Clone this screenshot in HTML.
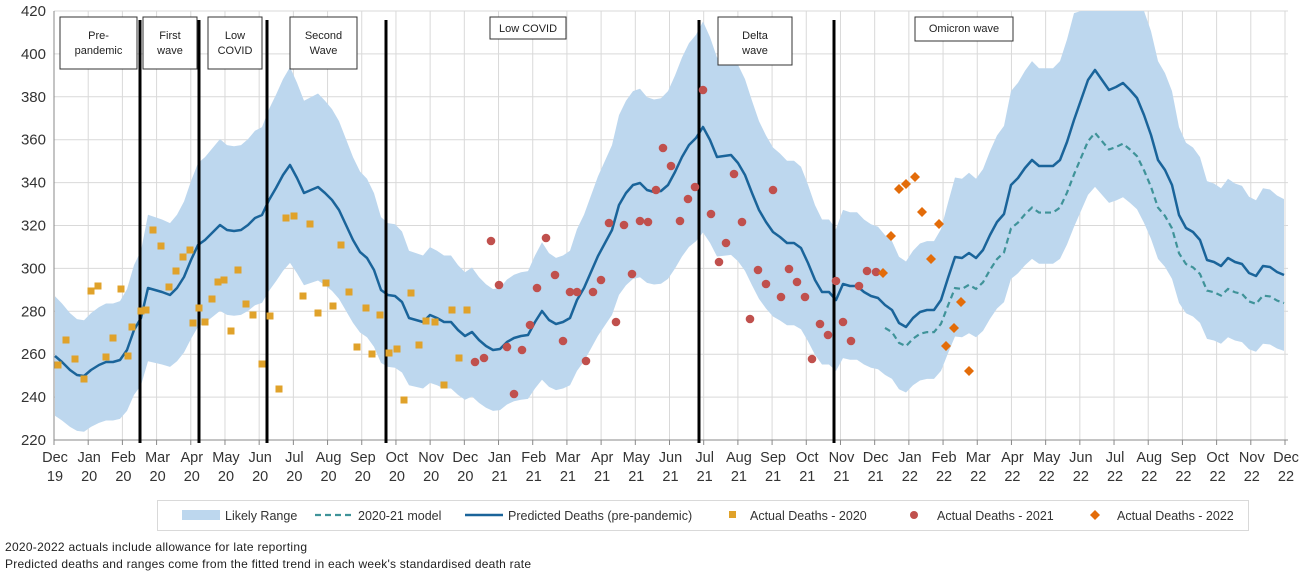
<!DOCTYPE html>
<html><head><meta charset="utf-8"><style>
html,body{margin:0;padding:0;background:#fff;width:1300px;height:577px;overflow:hidden;font-family:"Liberation Sans",sans-serif}
svg text{font-family:"Liberation Sans",sans-serif}
</style></head><body>
<svg id="s" width="1300" height="577" xmlns="http://www.w3.org/2000/svg"></svg>
<script>
const s=document.getElementById('s');let h='';
const X0=54,MW=(1285-54)/36,Y=v=>440-(v-220)*2.145;
for(let v=220;v<=420;v+=20){h+=`<line x1="${X0}" x2="1288" y1="${Y(v)}" y2="${Y(v)}" stroke="#d9d9d9"/>`;h+=`<text x="${X0-8}" y="${Y(v)+5}" font-size="15" fill="#333" text-anchor="end">${v}</text>`;}
const mon=['Dec','Jan','Feb','Mar','Apr','May','Jun','Jul','Aug','Sep','Oct','Nov'];
for(let i=0;i<=36;i++){const x=X0+i*MW;h+=`<line x1="${x}" x2="${x}" y1="11" y2="440" stroke="#d9d9d9"/><line x1="${x}" x2="${x}" y1="440" y2="445" stroke="#888"/>`;
const yr=19+Math.floor((i+11)/12);h+=`<text x="${x+1}" y="462" font-size="14.5" fill="#333" text-anchor="middle">${mon[i%12]}</text><text x="${x+1}" y="481" font-size="14.5" fill="#333" text-anchor="middle">${yr}</text>`;}
h+=`<line x1="${X0}" x2="${X0}" y1="11" y2="440" stroke="#888"/><line x1="${X0}" x2="1288" y1="440" y2="440" stroke="#888"/>`;
const P=[[55,356],[62,362],[70,370],[77,375],[84,376],[91,370],[99,365],[106,362],[113,362],[120,360],[127,350],[134,330],[141,318],[148,288],[155,290],[162,292],[170,295],[177,288],[184,277],[191,260],[198,245],[205,240],[213,232],[220,225],[227,230],[234,231],[241,230],[248,225],[255,218],[262,215],[269,200],[276,188],[283,175],[290,165],[297,178],[304,193],[311,190],[318,187],[325,193],[332,200],[339,210],[346,225],[353,240],[360,252],[367,258],[374,270],[381,290],[388,295],[395,296],[402,302],[409,318],[416,320],[423,322],[430,315],[437,318],[444,322],[451,322],[458,330],[465,336],[472,332],[479,340],[486,346],[493,350],[500,349],[507,342],[514,338],[521,336],[528,335],[535,322],[542,311],[549,320],[556,324],[563,322],[570,318],[577,300],[584,288],[591,272],[598,256],[605,243],[612,230],[619,205],[626,193],[633,185],[640,183],[647,190],[654,192],[661,191],[668,185],[675,172],[682,157],[689,145],[696,138],[703,127],[710,140],[717,157],[724,156],[731,155],[738,163],[745,175],[752,193],[759,210],[766,222],[773,232],[780,237],[787,243],[794,243],[801,248],[808,263],[815,280],[822,292],[829,292],[836,300],[843,284],[850,286],[857,286],[864,292],[871,296],[878,298],[885,305],[892,310],[899,323],[906,327],[913,318],[920,312],[927,310],[934,310],[941,300],[948,278],[955,257],[962,258],[969,253],[976,258],[983,250],[990,235],[997,222],[1004,214],[1011,185],[1018,178],[1025,168],[1032,160],[1039,166],[1046,166],[1053,166],[1060,160],[1067,142],[1074,120],[1081,100],[1088,80],[1095,70],[1102,80],[1109,90],[1116,87],[1123,83],[1130,90],[1137,98],[1144,115],[1151,135],[1158,160],[1165,170],[1172,185],[1179,215],[1186,228],[1193,232],[1200,240],[1207,260],[1214,262],[1221,266],[1228,258],[1235,262],[1242,264],[1249,273],[1256,276],[1263,266],[1270,267],[1277,272],[1284,275]];
const val=y=>220+(440-y)/2.145;
const off=v=>(v-220)*0.2+20;
let up=[],lo=[];P.forEach(([x,y])=>{const v=val(y),o=off(v);up.push([x,Math.max(11,Y(v+o))]);lo.push([x,Math.min(440,Y(v-o))]);});
h+=`<polygon fill="#BDD7EE" points="${up.map(p=>p.join(',')).join(' ')} ${lo.reverse().map(p=>p.join(',')).join(' ')}"/>`;
const d=P.filter(p=>p[0]>=881).map(([x,y])=>[x,Y(220+(val(y)-220)*0.83)]);
h+=`<polyline fill="none" stroke="#3F9399" stroke-width="2.2" stroke-dasharray="6,4" points="${d.map(p=>p.join(',')).join(' ')}"/>`;
h+=`<polyline fill="none" stroke="#1A649A" stroke-width="2.5" stroke-linejoin="round" points="${P.map(p=>p.join(',')).join(' ')}"/>`;
[140,199,267,386,699,834].forEach(x=>h+=`<line x1="${x}" x2="${x}" y1="20" y2="443" stroke="#000" stroke-width="3"/>`);
const bx=[[60,17,77,52,['Pre-','pandemic']],[143,17,54,52,['First','wave']],[208,17,54,52,['Low','COVID']],[290,17,67,52,['Second','Wave']],[490,17,76,22,['Low COVID']],[718,17,74,48,['Delta','wave']],[915,17,98,24,['Omicron wave']]];
bx.forEach(([x,y,w,hh,t])=>{h+=`<rect x="${x}" y="${y}" width="${w}" height="${hh}" fill="#fff" stroke="#333"/>`;t.forEach((l,i)=>h+=`<text x="${x+w/2}" y="${y+(t.length==1?15:22)+i*15}" font-size="11" fill="#222" text-anchor="middle">${l}</text>`);});
const S=[[58,365],[66,340],[75,359],[84,379],[91,291],[98,286],[106,357],[113,338],[121,289],[128,356],[132,327],[141,311],[146,310],[153,230],[161,246],[169,287],[176,271],[183,257],[190,250],[193,323],[199,308],[205,322],[212,299],[218,282],[224,280],[231,331],[238,270],[246,304],[253,315],[262,364],[270,316],[279,389],[286,218],[294,216],[303,296],[310,224],[318,313],[326,283],[333,306],[341,245],[349,292],[357,347],[366,308],[372,354],[380,315],[389,353],[397,349],[404,400],[411,293],[419,345],[426,321],[435,322],[444,385],[452,310],[459,358],[467,310]];
S.forEach(([x,y])=>h+=`<rect x="${x-3.5}" y="${y-3.5}" width="7" height="7" fill="#E0A22A"/>`);
const C=[[475,362],[484,358],[491,241],[499,285],[507,347],[514,394],[522,350],[530,325],[537,288],[546,238],[555,275],[563,341],[570,292],[577,292],[586,361],[593,292],[601,280],[609,223],[616,322],[624,225],[632,274],[640,221],[648,222],[656,190],[663,148],[671,166],[680,221],[688,199],[695,187],[703,90],[711,214],[719,262],[726,243],[734,174],[742,222],[750,319],[758,270],[766,284],[773,190],[781,297],[789,269],[797,282],[805,297],[812,359],[820,324],[828,335],[836,281],[843,322],[851,341],[859,286],[867,271],[876,272]];
C.forEach(([x,y])=>h+=`<circle cx="${x}" cy="${y}" r="4.3" fill="#C0504D"/>`);
const D=[[883,273],[891,236],[899,189],[906,184],[915,177],[922,212],[931,259],[939,224],[946,346],[954,328],[961,302],[969,371]];
D.forEach(([x,y])=>h+=`<polygon points="${x},${y-5} ${x+5},${y} ${x},${y+5} ${x-5},${y}" fill="#E36C09"/>`);
h+=`<rect x="157.5" y="500.5" width="1091" height="30" fill="#fff" stroke="#d9d9d9"/>`;
h+=`<rect x="182" y="510" width="38" height="10" fill="#BDD7EE"/><text x="225" y="520" font-size="12.5" fill="#333">Likely Range</text>`;
h+=`<line x1="315" x2="355" y1="515" y2="515" stroke="#3F9399" stroke-width="2.2" stroke-dasharray="6,4"/><text x="358" y="520" font-size="12.5" fill="#333">2020-21 model</text>`;
h+=`<line x1="465" x2="503" y1="515" y2="515" stroke="#1A649A" stroke-width="2.5"/><text x="508" y="520" font-size="12.5" fill="#333">Predicted Deaths (pre-pandemic)</text>`;
h+=`<rect x="729" y="511" width="7" height="7" fill="#E0A22A"/><text x="750" y="520" font-size="12.5" fill="#333">Actual Deaths - 2020</text>`;
h+=`<circle cx="914" cy="515" r="4" fill="#C0504D"/><text x="937" y="520" font-size="12.5" fill="#333">Actual Deaths - 2021</text>`;
h+=`<polygon points="1095,510 1100,515 1095,520 1090,515" fill="#E36C09"/><text x="1117" y="520" font-size="12.5" fill="#333">Actual Deaths - 2022</text>`;
h+=`<text x="5" y="551" font-size="12" fill="#222" textLength="302">2020-2022   actuals include allowance for late reporting</text>`;
h+=`<text x="5" y="568" font-size="12" fill="#222" textLength="526">Predicted deaths and ranges come from the fitted trend in each week's standardised death rate</text>`;
s.innerHTML=h;
</script>
</body></html>
